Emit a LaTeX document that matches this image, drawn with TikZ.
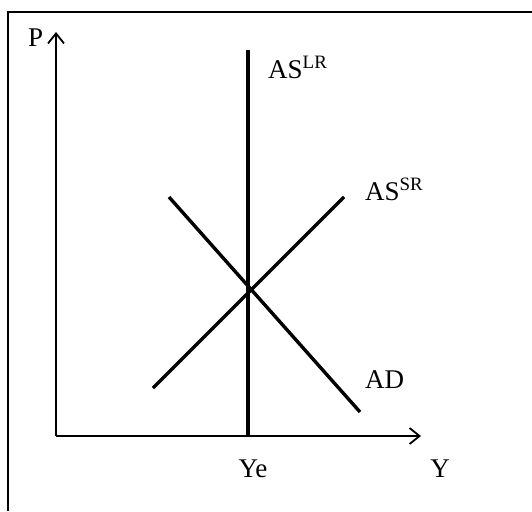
\documentclass[tikz,border=0pt]{standalone}
\usepackage{fontspec}
\setmainfont{Liberation Serif}
\usetikzlibrary{arrows.meta, positioning}

\begin{document}
\begin{tikzpicture}[x=1pt, y=-1pt,
		axis/.style  = {line width=1.8pt, -{Straight Barb[length=10pt, width=16pt, line width=1.8pt]}},
		curve/.style = {line width=3.4pt},
		frame/.style = {line width=2pt},
		lbl/.style   = {font=\fontsize{27}{32}\selectfont, inner sep=0pt}
		]
		\useasboundingbox (0,0) rectangle (532,511);
		\draw[frame] (8,511) -- (8,12.5) -- (532,12.5);
		
		% axes
		\coordinate (origin) at (56,436);
		\coordinate (ptop) at (56,32);
		\coordinate (yend) at (421,436);
		\draw[axis] (origin) -- (ptop);
		\draw[axis] (origin) -- (yend);
		
		% curves
		\coordinate (lr_top) at (248,50);
		\coordinate (lr_bot) at (248,436);
		\coordinate (sr_lo) at (153,388);
		\coordinate (sr_hi) at (344,197);
		\coordinate (ad_hi) at (169,197);
		\coordinate (ad_lo) at (360,412);
		\draw[curve] (lr_top) -- (lr_bot);
		\draw[curve] (sr_lo) -- (sr_hi);
		\draw[curve] (ad_hi) -- (ad_lo);
		
		\node[lbl, anchor=base west] (p_lbl) at (28,47) {P};
		\node[lbl, anchor=base] (y_lbl) at (440,477) {Y};
		\node[lbl, anchor=base] (ye_lbl) at (253,477) {Ye};
		\node[lbl, anchor=base west] (aslr_lbl) at (268,78) {AS\textsuperscript{LR}};
		\node[lbl, anchor=base west] (assr_lbl) at (365,200) {AS\textsuperscript{SR}};
		\node[lbl, anchor=base west] (ad_lbl) at (365,388) {AD};
	\end{tikzpicture}
\end{document}
